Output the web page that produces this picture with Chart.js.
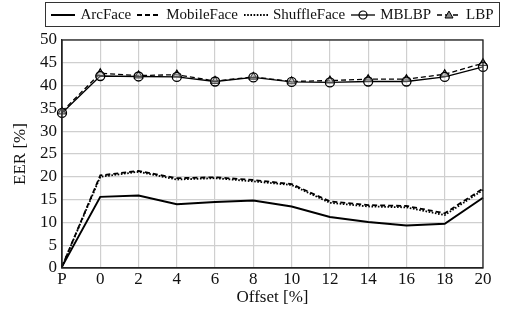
<!DOCTYPE html>
<html>
<head>
<meta charset="utf-8">
<script src="https://cdn.jsdelivr.net/npm/chart.js@4/dist/chart.umd.min.js"></script>
<style>
  body { margin:0; background:#fff; }
  #wrap { position:relative; width:505px; height:320px; }
  #legend { position:absolute; left:45px; top:2px; width:455px; height:25px; border:1px solid #333;
    display:flex; align-items:center; justify-content:center;
    font-family:"Liberation Serif", serif; font-size:15px; color:#111; box-sizing:border-box; white-space:nowrap; }
  #legend .item { display:flex; align-items:center; margin:0 3px; }
  #legend svg { margin-right:5px; }
</style>
</head>
<body>
<div id="wrap">
  <canvas id="c" width="505" height="320"></canvas>
  <div id="legend"></div>
</div>
<script>
// data
const offsets = ["P","0","2","4","6","8","10","12","14","16","18","20"];
const arcFace     = [0.3, 15.6, 15.9, 14.0, 14.5, 14.8, 13.5, 11.2, 10.1, 9.3, 9.7, 15.4];
const mobileFace  = [0.3, 20.3, 21.3, 19.7, 19.9, 19.3, 18.4, 14.6, 13.8, 13.6, 12.0, 17.4];
const shuffleFace = [0.3, 20.0, 21.1, 19.4, 19.7, 19.0, 18.2, 14.3, 13.5, 13.3, 11.6, 17.1];
const mblbp       = [34.0, 42.1, 42.0, 41.9, 40.9, 41.8, 40.8, 40.7, 40.9, 40.9, 41.9, 44.1];
const lbp         = [34.3, 42.7, 42.2, 42.4, 41.0, 41.9, 40.9, 41.1, 41.4, 41.4, 42.5, 44.9];

const serif = '"Liberation Serif", serif';

const datasets = [
  { label:"ArcFace", data:arcFace, borderColor:"#000", borderWidth:2, pointRadius:0 },
  { label:"MobileFace", data:mobileFace, borderColor:"#000", borderWidth:1.8, borderDash:[5,3], pointRadius:0 },
  { label:"ShuffleFace", data:shuffleFace, borderColor:"#000", borderWidth:1.8, borderDash:[1.6,1.6], pointRadius:0 },
  { label:"MBLBP", data:mblbp, borderColor:"#000", borderWidth:1.3, pointStyle:"circle", pointRadius:4.5,
    pointBorderWidth:1.3, pointBackgroundColor:"rgba(255,255,255,0.3)" },
  { label:"LBP", data:lbp, borderColor:"#000", borderWidth:1.3, borderDash:[5,3], pointStyle:"triangle", pointRadius:4.5,
    pointBorderWidth:1.2, pointBackgroundColor:"rgba(140,140,140,0.5)" }
];
datasets.forEach(d => { d.fill = false; d.tension = 0; });

// full box around the plot area
const frame = {
  id:"frame",
  afterDraw(chart){
    const {ctx, chartArea:a} = chart;
    ctx.save();
    ctx.strokeStyle = "#222"; ctx.lineWidth = 1.3;
    ctx.strokeRect(a.left, a.top, a.right - a.left, a.bottom - a.top);
    ctx.restore();
  }
};

new Chart(document.getElementById("c"), {
  type:"line",
  data:{ labels:offsets, datasets },
  plugins:[frame],
  options:{
    responsive:false, animation:false,
    layout:{ padding:{ top:40, right:22, left:0, bottom:0 } },
    plugins:{ legend:{ display:false }, tooltip:{ enabled:false } },
    elements:{ line:{ borderCapStyle:"butt" } },
    scales:{
      x:{
        type:"category", offset:false,
        grid:{ color:"#cfcfcf", lineWidth:1.2, drawTicks:false },
        border:{ color:"#222", width:1.3 },
        ticks:{ color:"#111", font:{ family:serif, size:17 }, padding:1, maxRotation:0, autoSkip:false },
        title:{ display:true, text:"Offset [%]", color:"#111", font:{ family:serif, size:17 }, padding:{ top:0, bottom:12 } },
        afterFit: s => { s.height = 52; }
      },
      y:{
        min:0, max:50,
        grid:{ color:"#cfcfcf", lineWidth:1.2, drawTicks:false },
        border:{ color:"#222", width:1.3 },
        ticks:{ stepSize:5, color:"#111", font:{ family:serif, size:17 }, padding:5, autoSkip:false },
        title:{ display:true, text:"EER [%]", color:"#111", font:{ family:serif, size:17 }, padding:{ top:10, bottom:0 } },
        afterFit: s => { s.width = 62; }
      }
    }
  }
});

// legend built from the datasets
const lg = document.getElementById("legend");
datasets.forEach(d => {
  const w = 24, h = 12, y = 6;
  let marker = "";
  if (d.pointStyle === "circle") marker = `<circle cx="${w/2}" cy="${y}" r="4" fill="none" stroke="#000" stroke-width="1.2"/>`;
  if (d.pointStyle === "triangle") marker = `<polygon points="${w/2},${y-4} ${w/2+4},${y+3} ${w/2-4},${y+3}" fill="#888" stroke="#000" stroke-width="1"/>`;
  const dash = d.borderDash ? `stroke-dasharray="${d.borderDash.join(",")}"` : "";
  lg.innerHTML += `<span class="item"><svg width="${w}" height="${h}">
    <line x1="0" y1="${y}" x2="${w}" y2="${y}" stroke="#000" stroke-width="${d.borderWidth}" ${dash}/>${marker}</svg>${d.label}</span>`;
});
</script>
</body>
</html>
